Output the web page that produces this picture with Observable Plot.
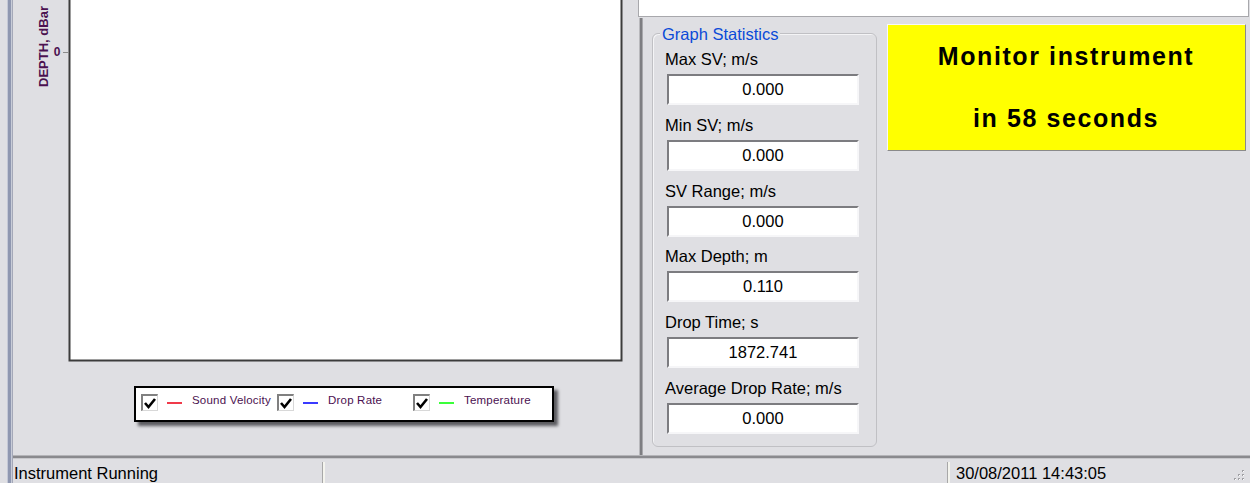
<!DOCTYPE html>
<html>
<head>
<meta charset="utf-8">
<script src="https://cdn.jsdelivr.net/npm/d3@7"></script>
<script src="https://cdn.jsdelivr.net/npm/@observablehq/plot@0.6"></script>
<style>
  html, body { margin: 0; padding: 0; }
  body { width: 1250px; height: 483px; overflow: hidden; position: relative; background: #dfdfe3;
         font-family: "Liberation Sans", Arial, sans-serif; color: #000; }
  .abs { position: absolute; }
  .lbl { position: absolute; font-size: 16.5px; line-height: 20px; white-space: nowrap; }
  .box { position: absolute; background: #fff; box-sizing: border-box;
         border-top: 2px solid #7c7c80; border-left: 2px solid #7c7c80;
         border-bottom: 2px solid #f6f6f8; border-right: 2px solid #f6f6f8;
         font-size: 16.5px; text-align: center; line-height: 27px; }
  .chk { position: absolute; width: 17px; height: 17px; box-sizing: border-box; background: #fff;
         border-top: 2px solid #808080; border-left: 2px solid #808080;
         border-bottom: 1px solid #d8d8d8; border-right: 1px solid #d8d8d8; }
  .legtxt { position: absolute; font-size: 11.5px; color: #4b1150; white-space: nowrap; line-height: 14px; letter-spacing: 0.2px; }
</style>
</head>
<body>
<script>
// ---- data ----
const yLabel = "DEPTH, dBar";
const depthTicks = [0];
const depthDomain = [-0.02, 0.11];
const svDomain = [1400, 1600];
const seriesNames = ["Sound Velocity", "Drop Rate", "Temperature"];
const seriesColors = ["#f03a4a", "#3a3aff", "#3aff3a"];
const soundVelocity = [];   // {sv, depth}
const dropRate = [];        // {rate, depth}
const temperature = [];     // {temp, depth}
const statsTitle = "Graph Statistics";
const statLabels = ["Max SV; m/s", "Min SV; m/s", "SV Range; m/s", "Max Depth; m", "Drop Time; s", "Average Drop Rate; m/s"];
const statValues = ["0.000", "0.000", "0.000", "0.110", "1872.741", "0.000"];
const alertLines = ["Monitor instrument", "in 58 seconds"];
const statusLeft = "Instrument Running";
const statusTime = "30/08/2011 14:43:05";

const purple = "#4b1150";

function el(tag, cls, css, text) {
  const e = document.createElement(tag);
  if (cls) e.className = cls;
  if (css) e.style.cssText = css;
  if (text != null) e.textContent = text;
  document.body.appendChild(e);
  return e;
}

// ---- window chrome ----
el("div", "abs", "left:7px;top:0;width:1px;height:483px;background:#c4c8d6");
el("div", "abs", "left:8px;top:0;width:3px;height:483px;background:#8f97b0");
el("div", "abs", "left:11px;top:0;width:1px;height:483px;background:#c8ccd8");
el("div", "abs", "left:12px;top:0;width:1px;height:483px;background:#a4a8b8");

// top-right white area
el("div", "abs", "left:638px;top:0;width:609px;height:16px;background:#fff;border-left:1px solid #a8a8ac;border-right:1px solid #a8a8ac;border-bottom:1px solid #a8a8ac");
// vertical separator
el("div", "abs", "left:639px;top:18px;width:1px;height:438px;background:#b8b8bc");
el("div", "abs", "left:640px;top:18px;width:2px;height:438px;background:#7e7e82");
el("div", "abs", "left:642px;top:18px;width:1px;height:438px;background:#a8a8ac");
// bottom horizontal line
el("div", "abs", "left:13px;top:455px;width:1237px;height:1px;background:#b4b4b8");
el("div", "abs", "left:13px;top:456px;width:1237px;height:2px;background:#8a8a8e");
el("div", "abs", "left:13px;top:458px;width:1237px;height:1px;background:#c8c8cc");

// status bar
el("div", "lbl", "left:14px;top:463px", statusLeft);
el("div", "abs", "left:322px;top:462px;width:1px;height:21px;background:#a8a8a8");
el("div", "abs", "left:323px;top:462px;width:2px;height:21px;background:#f4f4ee");
el("div", "abs", "left:947px;top:462px;width:1px;height:21px;background:#a8a8a8");
el("div", "abs", "left:948px;top:462px;width:2px;height:21px;background:#f4f4ee");
el("div", "lbl", "left:956px;top:463px", statusTime);
// resize grip dots
[[1242,470],[1238,474],[1242,474],[1234,478],[1238,478],[1242,478]].forEach(([x,y]) => {
  el("div", "abs", `left:${x}px;top:${y}px;width:2px;height:2px;background:#a0a0a4`);
  el("div", "abs", `left:${x+1}px;top:${y+1}px;width:1px;height:1px;background:#fff`);
});

// group box
el("div", "abs", "left:652px;top:33px;width:223px;height:412px;border:1px solid #c0c0c4;border-radius:6px;box-shadow:inset 1px 1px 0 #f4f4f6");
el("div", "lbl", "left:660px;top:24px;padding:0 2px;background:#dfdfe3;color:#0a4ad8", statsTitle);
statLabels.forEach((t, i) => {
  const off = Math.round(i * 65.8);
  el("div", "lbl", `left:665px;top:${49 + off}px`, t);
  el("div", "box", `left:667px;top:${74 + off}px;width:192px;height:31px`, statValues[i]);
});

// yellow alert box
el("div", "abs", "left:887px;top:24px;width:357px;height:125px;background:#ffff00;border-top:1px solid #f8f8f8;border-left:1px solid #f8f8f8;border-bottom:1px solid #8a8a8a;border-right:1px solid #8a8a8a");
alertLines.forEach((t, i) => {
  el("div", "abs", `left:887px;width:358px;top:${41 + i * 62}px;text-align:center;font-weight:bold;font-size:25px;line-height:30px;letter-spacing:1.6px;white-space:nowrap`, t);
});

// ---- chart ----
const plot = Plot.plot({
  width: 640,
  height: 384,
  marginLeft: 69,
  marginRight: 19,
  marginTop: 0,
  marginBottom: 20,
  x: {domain: svDomain, axis: null},
  y: {domain: depthDomain, reverse: true, axis: null},
  color: {domain: seriesNames, range: seriesColors},
  style: {fontFamily: "Liberation Sans, Arial, sans-serif", background: "transparent", overflow: "visible"},
  marks: [
    Plot.frame({fill: "#fff", stroke: "#3c3c3c", strokeWidth: 2}),
    Plot.line(soundVelocity, {x: "sv", y: "depth", stroke: () => seriesNames[0]}),
    Plot.line(dropRate, {x: "rate", y: "depth", stroke: () => seriesNames[1]}),
    Plot.line(temperature, {x: "temp", y: "depth", stroke: () => seriesNames[2]}),
    Plot.axisY({ticks: depthTicks, tickFormat: d => String(d), tickSize: 6, tickPadding: 3, stroke: "#8c8c8c", fill: purple, fontSize: 12, fontWeight: "bold", label: null}),
    Plot.text([yLabel], {text: d => d, frameAnchor: "top-left", dx: -31, dy: 50, rotate: -90, textAnchor: "middle", fill: purple, fontSize: 13, fontWeight: "bold"})
  ]
});
plot.style.position = "absolute";
plot.style.left = "0px";
plot.style.top = "-4px";
document.body.appendChild(plot);

// ---- legend ----
let colorScale = null;
try { colorScale = plot.scale("color"); } catch (e) {}
const colorOf = (n, i) => (colorScale && colorScale.apply) ? colorScale.apply(n) : seriesColors[i];

el("div", "abs", "left:134px;top:386px;width:416px;height:32px;background:#fff;border:2px solid #000;box-shadow:4px 4px 3px #5c5c60");
seriesNames.forEach((n, i) => {
  const x0 = 141 + i * 136;
  const c = el("div", "chk", `left:${x0}px;top:394px`);
  c.innerHTML = '<svg width="14" height="14" style="position:absolute;left:0;top:0"><polyline points="2,7 5.5,11 12,3" fill="none" stroke="#000" stroke-width="2.6"/></svg>';
  el("div", "abs", `left:${x0 + 26}px;top:402px;width:15px;height:1.5px;background:${colorOf(n, i)}`);
  el("div", "legtxt", `left:${x0 + 51}px;top:393px`, n);
});
</script>
</body>
</html>
